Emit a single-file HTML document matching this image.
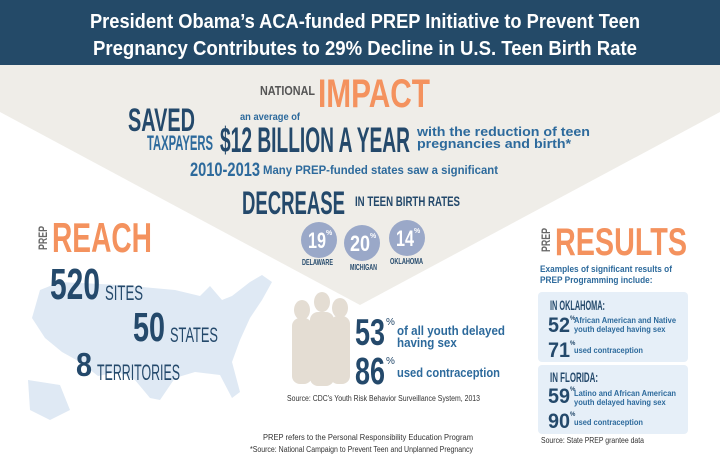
<!DOCTYPE html>
<html><head><meta charset="utf-8">
<style>
*{margin:0;padding:0;box-sizing:border-box}
body{width:720px;height:468px;overflow:hidden;background:#fff;font-family:"Liberation Sans",sans-serif;position:relative}
.a{position:absolute;white-space:nowrap;line-height:1;transform-origin:0 0}
.n{color:#24496b;font-weight:bold}
.b{color:#2d6a9c;font-weight:bold}
.o{color:#f4925e;font-weight:bold}
.p{position:absolute;font-weight:bold;color:#24496b;line-height:1}
.circ{position:absolute;width:36px;height:36px;border-radius:50%;background:#9aa8c8}
.box{position:absolute;left:538px;width:150px;background:#e6eff8;border-radius:4px}
</style></head><body>
<svg class="a" style="left:0;top:0" width="720" height="468">
<rect x="0" y="0" width="720" height="65" fill="#244a68"/>
<polygon points="0,65 720,65 720,112 360,305 0,112" fill="#efede8"/>
<path d="M40,290 L60,282 L120,285 L175,290 L200,296 L210,286 L222,300 L232,296 L250,282 L262,275 L272,282 L262,300 L250,318 L240,340 L232,362 L240,392 L232,398 L220,375 L195,372 L175,378 L160,400 L150,398 L135,380 L118,372 L98,376 L80,362 L62,352 L45,338 L32,318 Z" fill="#dfe9f4"/>
<path d="M28,380 L60,385 L70,410 L50,420 L30,410 Z" fill="#dfe9f4"/>
<g fill="#e4ddd3">
<ellipse cx="302" cy="310" rx="8" ry="10"/><rect x="292" y="318" width="20" height="66" rx="8"/>
<ellipse cx="322" cy="302" rx="8" ry="10"/><rect x="310" y="312" width="24" height="74" rx="8"/>
<ellipse cx="340" cy="308" rx="8" ry="10"/><rect x="330" y="316" width="20" height="68" rx="8"/>
</g>
</svg>
<div class="a" data-w="550" style="left:90px;top:12px;color:#fff;font-weight:bold;font-size:20px">President Obama’s ACA-funded PREP Initiative to Prevent Teen</div>
<div class="a" data-w="544" style="left:93px;top:39px;color:#fff;font-weight:bold;font-size:20px">Pregnancy Contributes to 29% Decline in U.S. Teen Birth Rate</div>

<div class="a" data-w="55" style="left:260px;top:84px;font-size:13px;font-weight:bold;color:#555">NATIONAL</div>
<div class="a o" data-w="112" style="left:318px;top:74px;font-size:40px">IMPACT</div>
<div class="a n" data-w="67" style="left:128px;top:104px;font-size:32px">SAVED</div>
<div class="a" data-w="66" style="left:147px;top:133px;font-size:21px;color:#2d6a9c;font-weight:bold">TAXPAYERS</div>
<div class="a b" data-w="60" style="left:240px;top:113px;font-size:10px">an average of</div>
<div class="a n" data-w="190" style="left:220px;top:123px;font-size:35px">$12 BILLION A YEAR</div>
<div class="a b" data-w="173" style="left:417px;top:126px;font-size:13px;line-height:12px">with the reduction of teen<br>pregnancies and birth*</div>
<div class="a" data-w="70" style="left:190px;top:161px;font-size:19px;font-weight:bold;color:#2d6a9c">2010-2013</div>
<div class="a b" data-w="235" style="left:263px;top:164px;font-size:12px">Many PREP-funded states saw a significant</div>
<div class="a n" data-w="103" style="left:242px;top:187px;font-size:32px">DECREASE</div>
<div class="a n" data-w="105" style="left:355px;top:194px;font-size:14px">IN TEEN BIRTH RATES</div>

<div class="circ" style="left:301px;top:222px"></div>
<div class="circ" style="left:344px;top:225px"></div>
<div class="circ" style="left:389px;top:220px"></div>
<div class="a" data-w="18" style="left:308px;top:230px;font-size:22px;font-weight:bold;color:#fff">19</div>
<div class="a" style="left:326px;top:230px;font-size:7px;font-weight:bold;color:#fff">%</div>
<div class="a" data-w="20" style="left:350px;top:233px;font-size:22px;font-weight:bold;color:#fff">20</div>
<div class="a" style="left:370px;top:233px;font-size:7px;font-weight:bold;color:#fff">%</div>
<div class="a" data-w="18" style="left:396px;top:228px;font-size:22px;font-weight:bold;color:#fff">14</div>
<div class="a" style="left:414px;top:228px;font-size:7px;font-weight:bold;color:#fff">%</div>
<div class="a n" data-w="31" style="left:302px;top:259px;font-size:8px">DELAWARE</div>
<div class="a n" data-w="27" style="left:350px;top:264px;font-size:8px">MICHIGAN</div>
<div class="a n" data-w="33" style="left:390px;top:258px;font-size:8px">OKLAHOMA</div>

<div class="a" data-w="24" data-r="1" style="left:37px;top:250px;font-size:12px;font-weight:bold;color:#666">PREP</div>
<div class="a o" data-w="100" style="left:52px;top:217px;font-size:42px">REACH</div>
<div class="a n" data-w="50" style="left:50px;top:263px;font-size:44px">520</div>
<div class="a" data-w="38" style="left:105px;top:283px;font-size:21px;color:#24496b">SITES</div>
<div class="a n" data-w="32" style="left:133px;top:307px;font-size:41px">50</div>
<div class="a" data-w="48" style="left:170px;top:325px;font-size:21px;color:#24496b">STATES</div>
<div class="a n" data-w="16" style="left:76px;top:348px;font-size:33px">8</div>
<div class="a" data-w="83" style="left:97px;top:362px;font-size:22px;color:#24496b">TERRITORIES</div>

<div class="a n" data-w="30" style="left:355px;top:314px;font-size:37px">53</div>
<div class="a n" style="left:386px;top:318px;font-size:10px;font-weight:normal">%</div>
<div class="a b" data-w="108" style="left:397px;top:325px;font-size:13px;line-height:12px">of all youth delayed<br>having sex</div>
<div class="a n" data-w="30" style="left:355px;top:353px;font-size:38px">86</div>
<div class="a n" style="left:386px;top:357px;font-size:10px;font-weight:normal">%</div>
<div class="a b" data-w="103" style="left:397px;top:366px;font-size:13px">used contraception</div>
<div class="a" data-w="193" style="left:287px;top:395px;font-size:8px;color:#333">Source: CDC's Youth Risk Behavior Surveillance System, 2013</div>
<div class="a" data-w="210" style="left:263px;top:434px;font-size:8px;color:#333">PREP refers to the Personal Responsibility Education Program</div>
<div class="a" data-w="223" style="left:250px;top:446px;font-size:8px;color:#333">*Source: National Campaign to Prevent Teen and Unplanned Pregnancy</div>

<div class="a" data-w="24" data-r="1" style="left:540px;top:252px;font-size:12px;font-weight:bold;color:#666">PREP</div>
<div class="a o" data-w="132" style="left:555px;top:223px;font-size:39px">RESULTS</div>
<div class="a b" data-w="132" style="left:540px;top:264px;font-size:9px;line-height:11px">Examples of significant results of<br>PREP Programming include:</div>
<div class="box" style="top:292px;height:70px"></div>
<div class="box" style="top:365px;height:69px"></div>
<div class="a n" data-w="55" style="left:550px;top:298px;font-size:14px">IN OKLAHOMA:</div>
<div class="a n" data-w="22" style="left:548px;top:315px;font-size:21px">52</div>
<div class="a n" style="left:570px;top:316px;font-size:6px">%</div>
<div class="a b" data-w="102" style="left:574px;top:316px;font-size:8.5px;line-height:9px">African American and Native<br>youth delayed having sex</div>
<div class="a n" data-w="22" style="left:548px;top:340px;font-size:21px">71</div>
<div class="a n" style="left:570px;top:341px;font-size:6px">%</div>
<div class="a b" data-w="69" style="left:574px;top:346px;font-size:8.5px">used contraception</div>
<div class="a n" data-w="48" style="left:550px;top:370px;font-size:14px">IN FLORIDA:</div>
<div class="a n" data-w="22" style="left:548px;top:386px;font-size:21px">59</div>
<div class="a n" style="left:570px;top:387px;font-size:6px">%</div>
<div class="a b" data-w="102" style="left:574px;top:389px;font-size:8.5px;line-height:9px">Latino and African American<br>youth delayed having sex</div>
<div class="a n" data-w="22" style="left:548px;top:411px;font-size:21px">90</div>
<div class="a n" style="left:570px;top:412px;font-size:6px">%</div>
<div class="a b" data-w="69" style="left:574px;top:418px;font-size:8.5px">used contraception</div>
<div class="a" data-w="103" style="left:541px;top:437px;font-size:8px;color:#333">Source: State PREP grantee data</div>
<script>
document.querySelectorAll('[data-w]').forEach(function(el){
  var w=el.getBoundingClientRect().width;
  var s=parseFloat(el.getAttribute('data-w'))/w;
  if(el.getAttribute('data-r')){el.style.transform='rotate(-90deg) scaleX('+s+')';}
  else{el.style.transform='scaleX('+s+')';}
});
</script>
</body></html>
